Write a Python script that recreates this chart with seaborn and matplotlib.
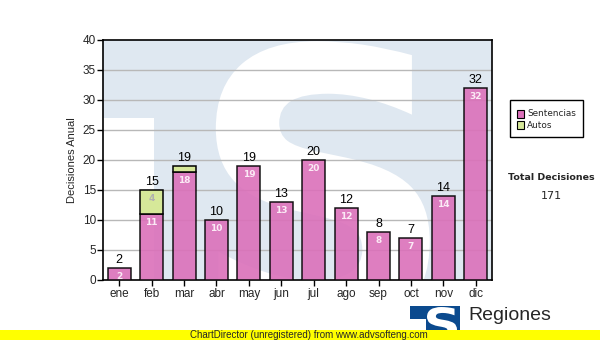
import numpy as np
import pandas as pd
import seaborn as sns
import matplotlib
matplotlib.use("Agg")
import matplotlib.pyplot as plt
from matplotlib.patches import Rectangle, PathPatch
from matplotlib.textpath import TextPath
from matplotlib.font_manager import FontProperties
from matplotlib.transforms import Affine2D

# Monthly decisions
meses = ["ene", "feb", "mar", "abr", "may", "jun", "jul", "ago", "sep", "oct", "nov", "dic"]
sentencias = [2, 11, 18, 10, 19, 13, 20, 12, 8, 7, 14, 32]
autos = [0, 4, 1, 0, 0, 0, 0, 0, 0, 0, 0, 0]
yticks = [0, 5, 10, 15, 20, 25, 30, 35, 40]

totales = [s + a for s, a in zip(sentencias, autos)]
total_decisiones = sum(totales)

PINK = (0.86, 0.44, 0.73)
GREEN = (0.84, 0.91, 0.60)
WATER = "#dfe8f1"
LOGO_BLUE = "#0b4a8e"

sns.set_theme(style="white")
plt.rcParams["font.family"] = ["Liberation Sans", "DejaVu Sans"]

fig = plt.figure(figsize=(6.0, 3.4), dpi=100)
fig.patch.set_facecolor("white")
ax = fig.add_axes([103 / 600, 1 - 280 / 340, 389 / 600, 240 / 340])
ax.set_facecolor(WATER)


def s_patch(x0, y0, x1, y1, transform, color, zorder):
    """Bold 'S' glyph stretched into the box (x0, y0)-(x1, y1)."""
    tp = TextPath((0, 0), "S", prop=FontProperties(family="DejaVu Sans", weight="bold"), size=1)
    ext = tp.get_extents()
    tr = (Affine2D()
          .translate(-ext.x0, -ext.y0)
          .scale((x1 - x0) / ext.width, (y1 - y0) / ext.height)
          .translate(x0, y0))
    return PathPatch(tr.transform_path(tp), facecolor=color, edgecolor="none",
                     transform=transform, zorder=zorder)


# Background emblem inside the plot area
ax.add_patch(Rectangle((0, 0), 0.131, 0.675, transform=ax.transAxes,
                       facecolor="white", edgecolor="none", zorder=0))
emb = s_patch(0.29, -0.22, 0.84, 0.995, ax.transAxes, "white", 0)
ax.add_patch(emb)
emb.set_clip_path(ax.patch)

df = pd.DataFrame({"mes": meses, "sentencias": sentencias, "autos": autos})
sns.barplot(data=df, x="mes", y="sentencias", color=PINK, saturation=1,
            width=0.71, edgecolor="black", linewidth=1.1, alpha=0.9, ax=ax, zorder=3)
xs = np.arange(len(meses))
mask = np.array(autos) > 0
ax.bar(xs[mask], np.array(autos)[mask], bottom=np.array(sentencias)[mask], width=0.71,
       color=GREEN, edgecolor="black", linewidth=1.1, zorder=3)

ax.set_xlim(-0.5, len(meses) - 0.5)
ax.set_ylim(0, 40)
ax.set_yticks(yticks)
ax.set_yticklabels([str(t) for t in yticks], fontsize=8.5)
ax.tick_params(axis="x", labelsize=8.5, length=4, width=1, color="black", direction="out", pad=2)
ax.tick_params(axis="y", length=4, width=1, color="black", direction="out", pad=1)
ax.tick_params(bottom=True, left=True)
ax.set_xlabel("")
ax.set_ylabel("Decisiones Anual", fontsize=8, labelpad=4)
for sp in ax.spines.values():
    sp.set_visible(True)
    sp.set_color("black")
    sp.set_linewidth(1.2)
for t in yticks[1:-1]:
    ax.axhline(t, color="#b8b8b8", lw=1, zorder=1)

# Value labels
for i, (s, a, tot) in enumerate(zip(sentencias, autos, totales)):
    ax.annotate(str(tot), (i, tot), xytext=(0, 1.5), textcoords="offset points",
                ha="center", va="bottom", fontsize=9, color="black", zorder=5)
    ax.annotate(str(s), (i, s), xytext=(0, -3), textcoords="offset points",
                ha="center", va="top", fontsize=6.5, color="#fbeaf5", fontweight="bold",
                family="DejaVu Sans", zorder=5)
    if a >= 2:
        ax.annotate(str(a), (i, s + a), xytext=(0, -3), textcoords="offset points",
                    ha="center", va="top", fontsize=6.5, color="#b0b0b0", fontweight="bold",
                    family="DejaVu Sans", zorder=5)

# Legend box
fig.patches.append(Rectangle((510 / 600, 1 - 137 / 340), 73 / 600, 37 / 340,
                             transform=fig.transFigure, facecolor="white",
                             edgecolor="black", lw=1))
for k, (lab, col) in enumerate([("Sentencias", PINK), ("Autos", GREEN)]):
    yc = 114 + k * 11
    fig.patches.append(Rectangle((517 / 600, 1 - (yc + 3.5) / 340), 7 / 600, 7 / 340,
                                 transform=fig.transFigure, facecolor=col,
                                 edgecolor="black", lw=0.8))
    fig.text(527 / 600, 1 - yc / 340, lab, fontsize=6.4, va="center", ha="left",
             family="DejaVu Sans")

fig.text(551 / 600, 1 - 178 / 340, "Total Decisiones", fontsize=6.8, fontweight="bold",
         ha="center", va="center", family="DejaVu Sans")
fig.text(551 / 600, 1 - 196 / 340, str(total_decisiones), fontsize=8,
         ha="center", va="center", family="DejaVu Sans")

# Footer logo
fig.patches.append(Rectangle((410 / 600, 1 - 337 / 340), 50 / 600, 31 / 340,
                             transform=fig.transFigure, facecolor=LOGO_BLUE, edgecolor="none"))
fig.patches.append(Rectangle((410 / 600, 1 - 337 / 340), 16 / 600, 18 / 340,
                             transform=fig.transFigure, facecolor="white", edgecolor="none"))
fig.patches.append(s_patch(427 / 600, 1 - 340 / 340, 457 / 600, 1 - 307 / 340,
                           fig.transFigure, "white", 2))
fig.text(468 / 600, 1 - 316 / 340, "Regiones", fontsize=14, ha="left", va="center")

# Footer band
fig.patches.append(Rectangle((0, 0), 1, 10 / 340, transform=fig.transFigure,
                             facecolor="#ffff00", edgecolor="none", zorder=5))
fig.text(190 / 600, 1 - 335 / 340, "ChartDirector (unregistered) from www.advsofteng.com",
         fontsize=7, ha="left", va="center", zorder=6)

fig.savefig("out.png", dpi=100, facecolor="white")
